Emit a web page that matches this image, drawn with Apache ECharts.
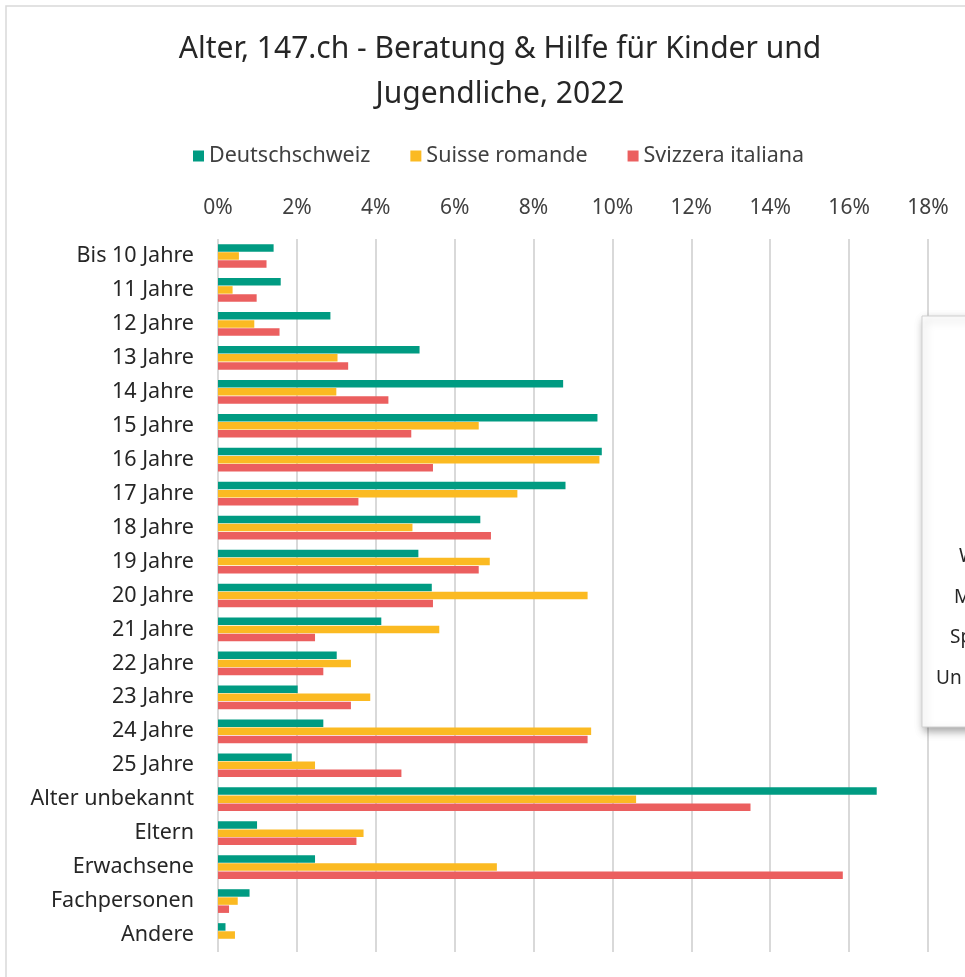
<!DOCTYPE html>
<html>
<head>
<meta charset="utf-8">
<script src="https://cdn.jsdelivr.net/npm/echarts@6/dist/echarts.min.js"></script>
<style>
  html, body { margin: 0; padding: 0; background: #fff; }
  #chart { width: 965px; height: 977px; }
</style>
</head>
<body>
<div id="chart"></div>
<script>
// categories (top to bottom)
const categories = ['Bis 10 Jahre', '11 Jahre', '12 Jahre', '13 Jahre', '14 Jahre', '15 Jahre',
  '16 Jahre', '17 Jahre', '18 Jahre', '19 Jahre', '20 Jahre', '21 Jahre', '22 Jahre', '23 Jahre',
  '24 Jahre', '25 Jahre', 'Alter unbekannt', 'Eltern', 'Erwachsene', 'Fachpersonen', 'Andere']

// shares in percent
const deutschschweiz = [1.41, 1.59, 2.85, 5.11, 8.75, 9.62, 9.73, 8.81, 6.65, 5.08, 5.42,
  4.14, 3.01, 2.02, 2.67, 1.87, 16.70, 0.99, 2.46, 0.80, 0.19]
const suisseRomande = [0.53, 0.37, 0.92, 3.03, 3.00, 6.61, 9.67, 7.59, 4.93, 6.89, 9.37,
  5.61, 3.37, 3.86, 9.46, 2.46, 10.60, 3.69, 7.07, 0.50, 0.43]
const svizzeraItaliana = [1.23, 0.98, 1.56, 3.30, 4.32, 4.90, 5.45, 3.56, 6.92, 6.61, 5.45,
  2.46, 2.67, 3.37, 9.37, 4.65, 13.50, 3.51, 15.84, 0.28, 0]

const seriesNames = ['Deutschschweiz', 'Suisse romande', 'Svizzera italiana']
const seriesColors = ['#009B82', '#FBBA22', '#EB5F5F']

// labels of the neighbouring panel that is cut off at the right edge
const sideLabels = ['W', 'M', 'Sp', 'Un']

const font = 'Noto Sans'
const chart = echarts.init(document.getElementById('chart'))

const seriesData = [deutschschweiz, suisseRomande, svizzeraItaliana].map((values, i) => {
  return {
    name: seriesNames[i],
    type: 'bar',
    data: values,
    barWidth: 7.5,
    barGap: '8%',
    itemStyle: { color: seriesColors[i] },
    silent: true
  }
})

const option = {
  backgroundColor: '#fff',
  animation: false,
  textStyle: { fontFamily: font },
  title: {
    text: 'Alter, 147.ch - Beratung & Hilfe für Kinder und\nJugendliche, 2022',
    left: 495,
    top: 22,
    textAlign: 'center',
    textStyle: {
      fontFamily: font,
      fontSize: 30,
      fontWeight: 'normal',
      color: '#262626',
      lineHeight: 45
    }
  },
  legend: {
    data: seriesNames,
    left: 188,
    top: 140,
    itemWidth: 11,
    itemHeight: 11,
    itemGap: 40,
    icon: 'rect',
    textStyle: { fontFamily: font, fontSize: 21.5, color: '#404040' }
  },
  grid: { left: 218, right: 37, top: 239, bottom: 25 },
  xAxis: {
    type: 'value',
    position: 'top',
    min: 0,
    max: 18,
    interval: 2,
    axisLine: { show: false },
    axisTick: { show: false },
    axisLabel: {
      formatter: v => v + '%',
      fontFamily: font,
      fontSize: 21,
      color: '#404040',
      margin: 20
    },
    splitLine: { lineStyle: { color: '#D9D9D9', width: 2 } }
  },
  yAxis: {
    type: 'category',
    data: categories,
    inverse: true,
    axisLine: { show: false },
    axisTick: { show: false },
    axisLabel: {
      fontFamily: font,
      fontSize: 21.5,
      color: '#262626',
      margin: 24
    }
  },
  series: seriesData,
  graphic: [
    {
      type: 'rect',
      z: 100,
      silent: true,
      shape: { x: 6, y: 6, width: 1000, height: 1000 },
      style: { fill: 'none', stroke: '#D9D9D9', lineWidth: 1.5 }
    },
    {
      type: 'rect',
      z: 101,
      silent: true,
      shape: { x: 922, y: 316, width: 80, height: 411 },
      style: {
        fill: '#fff',
        stroke: '#D0D0D0',
        lineWidth: 1,
        shadowColor: 'rgba(0,0,0,0.35)',
        shadowBlur: 8,
        shadowOffsetX: 2,
        shadowOffsetY: 4
      }
    }
  ].concat(sideLabels.map((t, i) => {
    const xs = [959, 954, 950, 936]
    return {
      type: 'text',
      z: 102,
      silent: true,
      style: {
        x: xs[i],
        y: 557 + i * 40.5,
        text: t,
        fontFamily: font,
        fontSize: 19,
        fill: '#262626',
        textVerticalAlign: 'middle'
      }
    }
  }))
}

chart.setOption(option)
</script>
</body>
</html>
